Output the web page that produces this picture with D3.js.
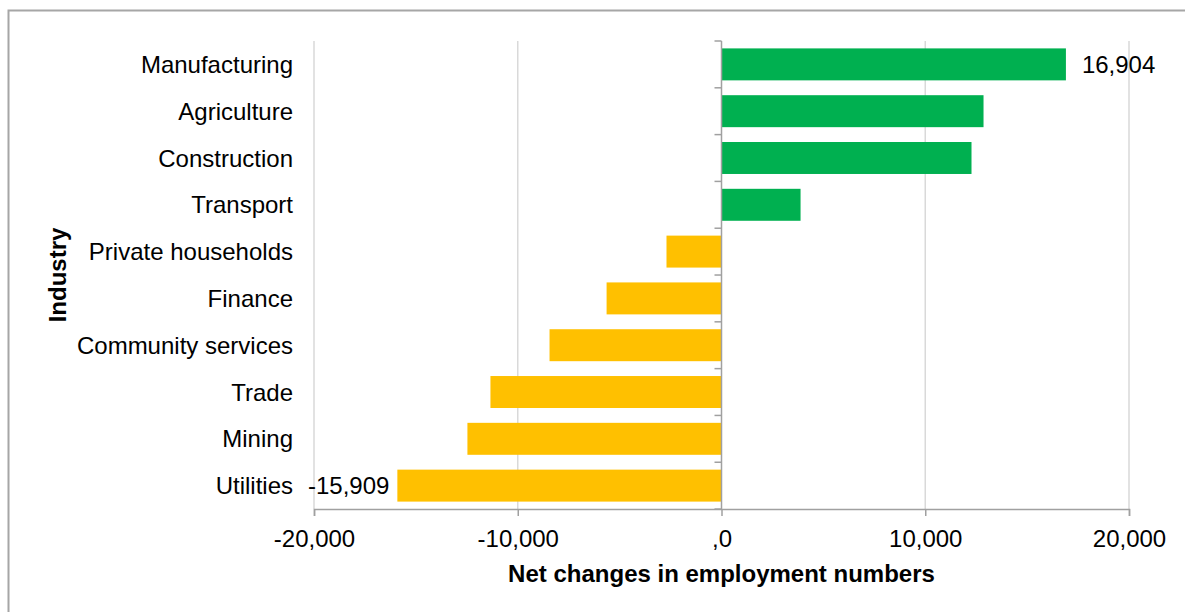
<!DOCTYPE html>
<html>
<head>
<meta charset="utf-8">
<script src="https://cdn.jsdelivr.net/npm/d3@7"></script>
<style>
  html, body { margin: 0; padding: 0; background: #fff; }
  svg { display: block; font-family: "Liberation Sans", Arial, sans-serif; }
</style>
</head>
<body>
<div id="chart"></div>
<script>
// Chart data (top to bottom)
const industries = ["Manufacturing", "Agriculture", "Construction", "Transport",
  "Private households", "Finance", "Community services", "Trade", "Mining", "Utilities"];
const netChanges = [16904, 12860, 12270, 3880, -2700, -5640, -8440, -11340, -12470, -15909];
const xTicks = [-20000, -10000, 0, 10000, 20000];
const xTickLabels = ["-20,000", "-10,000", ",0", "10,000", "20,000"];
const labelled = ["Manufacturing", "Utilities"];

const COLOR_POS = "#00B050";
const COLOR_NEG = "#FFC000";
const FONT_SIZE = 24;

const width = 1185, height = 612;
const margin = { top: 41, right: 56, bottom: 103, left: 314 };

const svg = d3.select("#chart").append("svg")
  .attr("width", width)
  .attr("height", height);

// outer frame (only top and left edges are visible)
svg.append("rect")
  .attr("x", 8.5).attr("y", 10.5)
  .attr("width", width + 20).attr("height", height + 20)
  .attr("fill", "none")
  .attr("stroke", "#a6a6a6")
  .attr("stroke-width", 2);

const x = d3.scaleLinear()
  .domain([-20000, 20000])
  .range([margin.left, width - margin.right]);

const y = d3.scaleBand()
  .domain(industries)
  .range([margin.top, height - margin.bottom])
  .paddingInner(0.317)
  .paddingOuter(0.158);

const yTop = margin.top, yBottom = height - margin.bottom;

// gridlines
svg.append("g")
  .selectAll("line")
  .data(xTicks.filter(d => d !== 0))
  .enter()
  .append("line")
  .attr("x1", d => x(d)).attr("x2", d => x(d))
  .attr("y1", yTop).attr("y2", yBottom)
  .attr("stroke", "#d9d9d9")
  .attr("stroke-width", 1.5);

// bars
svg.append("g")
  .selectAll("rect")
  .data(industries)
  .enter()
  .append("rect")
  .attr("x", (d, i) => Math.min(x(0), x(netChanges[i])))
  .attr("y", d => y(d))
  .attr("width", (d, i) => Math.abs(x(netChanges[i]) - x(0)))
  .attr("height", y.bandwidth())
  .attr("fill", (d, i) => netChanges[i] >= 0 ? COLOR_POS : COLOR_NEG);

// x axis
const xAxis = svg.append("g")
  .attr("transform", `translate(0,${yBottom})`)
  .call(d3.axisBottom(x)
    .tickValues(xTicks)
    .tickSize(7)
    .tickFormat((d, i) => xTickLabels[i]));
xAxis.select(".domain").attr("stroke", "#a0a0a0").attr("stroke-width", 1.5);
xAxis.selectAll(".tick line").attr("stroke", "#a0a0a0").attr("stroke-width", 1.5);
xAxis.selectAll(".tick text")
  .attr("font-size", FONT_SIZE)
  .attr("font-family", "Liberation Sans, Arial, sans-serif")
  .attr("fill", "#000")
  .attr("y", 0)
  .attr("dy", 0)
  .attr("transform", "translate(0,38)");

// y axis at zero: tick marks between categories
const zeroX = x(0);
const bandStep = y.step();
svg.append("line")
  .attr("x1", zeroX).attr("x2", zeroX)
  .attr("y1", yTop).attr("y2", yBottom)
  .attr("stroke", "#a0a0a0")
  .attr("stroke-width", 1.5);
svg.append("g")
  .selectAll("line")
  .data(d3.range(industries.length + 1))
  .enter()
  .append("line")
  .attr("x1", zeroX - 7).attr("x2", zeroX)
  .attr("y1", i => yTop + i * bandStep)
  .attr("y2", i => yTop + i * bandStep)
  .attr("stroke", "#a0a0a0")
  .attr("stroke-width", 1.5);

// category labels
svg.append("g")
  .selectAll("text")
  .data(industries)
  .enter()
  .append("text")
  .attr("x", 293)
  .attr("y", d => y(d) + y.bandwidth() / 2)
  .attr("dy", "0.36em")
  .attr("text-anchor", "end")
  .attr("font-size", FONT_SIZE)
  .attr("fill", "#000")
  .text(d => d);

// data labels
svg.append("g")
  .selectAll("text")
  .data(industries.filter(d => labelled.includes(d)))
  .enter()
  .append("text")
  .attr("x", d => {
    const v = netChanges[industries.indexOf(d)];
    return v >= 0 ? x(v) + 16 : x(v) - 8;
  })
  .attr("y", d => y(d) + y.bandwidth() / 2)
  .attr("dy", "0.36em")
  .attr("text-anchor", d => netChanges[industries.indexOf(d)] >= 0 ? "start" : "end")
  .attr("font-size", FONT_SIZE)
  .attr("fill", "#000")
  .text(d => d3.format(",")(netChanges[industries.indexOf(d)]).replace("−", "-"));

// axis titles
svg.append("text")
  .attr("x", zeroX)
  .attr("y", 582)
  .attr("text-anchor", "middle")
  .attr("font-size", FONT_SIZE)
  .attr("font-weight", "bold")
  .text("Net changes in employment numbers");

svg.append("text")
  .attr("transform", `translate(66,${(yTop + yBottom) / 2}) rotate(-90)`)
  .attr("text-anchor", "middle")
  .attr("font-size", FONT_SIZE)
  .attr("font-weight", "bold")
  .text("Industry");
</script>
</body>
</html>
